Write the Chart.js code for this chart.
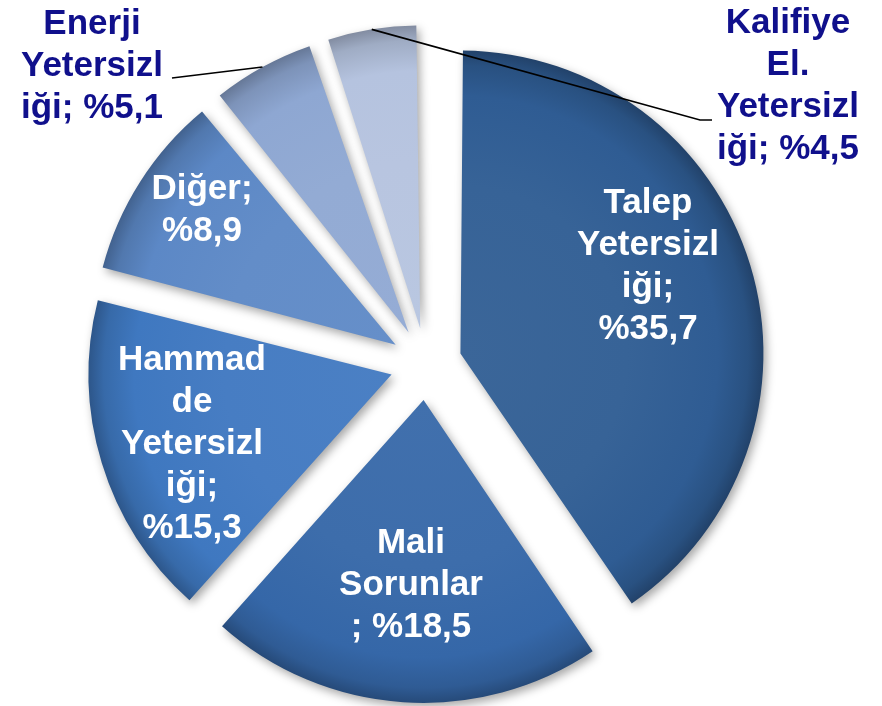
<!DOCTYPE html>
<html lang="tr">
<head>
<meta charset="UTF-8">
<title>Sorunlar</title>
<script src="https://cdn.jsdelivr.net/npm/chart.js"></script>
<style>
  html, body { margin: 0; padding: 0; background: #fff; }
  #wrap { width: 882px; height: 706px; }
</style>
</head>
<body>
<div id="wrap"><canvas id="pie"></canvas></div>
<script>
const categories = ['Talep Yetersizliği', 'Mali Sorunlar', 'Hammadde Yetersizliği', 'Diğer', 'Enerji Yetersizliği', 'Kalifiye El. Yetersizliği'];
const shares = [35.7, 18.5, 15.3, 8.9, 5.1, 4.5];
// label text broken the way it is on the slide, {v} gets the value
const labelLines = [
    ['Talep', 'Yetersizl', 'iği;', '{v}'],
    ['Mali', 'Sorunlar', '; {v}'],
    ['Hammad', 'de', 'Yetersizl', 'iği;', '{v}'],
    ['Diğer;', '{v}'],
    ['Enerji', 'Yetersizl', 'iği; {v}'],
    ['Kalifiye', 'El.', 'Yetersizl', 'iği; {v}']
];
const sliceColors = ['#2f5c93', '#3567a8', '#3f78c0', '#5c88c6', '#8ea7d2', '#b5c3df'];

// layout bits
const RADIUS = 303;
const EXPLODE = 36;          // how far each slice is pulled out
const LINE = 42;
const labelAt = [[648, 266], [411, 585], [192, 444], [202, 210], [92, 66], [788, 86]];
const labelColor = ['#fff', '#fff', '#fff', '#fff', '#10108c', '#10108c'];
const leaderFrom = [null, null, null, null, [[172, 78]], [[712, 120], [700, 120]]];

function fmt(v) {
    return '%' + v.toFixed(1).replace('.', ',');
}

function mix(hex, to, t) {
    const a = parseInt(hex.slice(1), 16), b = parseInt(to.slice(1), 16);
    const ch = (n, s) => (n >> s) & 255;
    const c = s => Math.round(ch(a, s) + (ch(b, s) - ch(a, s)) * t);
    return `rgb(${c(16)}, ${c(8)}, ${c(0)})`;
}

// radial shading, centred on the chart centre; the arc draw translates it with the slice
function sliceFill(ctx) {
    const base = sliceColors[ctx.dataIndex] || sliceColors[0];
    const area = ctx.chart.chartArea;
    if (ctx.type !== 'data' || !area) return base;
    const cx = (area.left + area.right) / 2;
    const cy = (area.top + area.bottom) / 2;
    const g = ctx.chart.ctx.createRadialGradient(cx, cy, 0, cx, cy, RADIUS);
    g.addColorStop(0, mix(base, '#ffffff', 0.06));
    g.addColorStop(0.55, mix(base, '#ffffff', 0.04));
    g.addColorStop(0.85, base);
    g.addColorStop(0.95, mix(base, '#000000', 0.12));
    g.addColorStop(1, mix(base, '#000000', 0.28));
    return g;
}

const pieDecor = {
    id: 'pieDecor',
    afterDatasetUpdate(chart, args) {
        // v4 grows the radius of an offset slice; pull it back so all slices match
        args.meta.data.forEach(arc => {
            const fix = 1 - Math.sin(Math.min(Math.PI, arc.circumference));
            arc.outerRadius = RADIUS - EXPLODE * fix;
        });
    },
    beforeDatasetsDraw(chart) {
        const ctx = chart.ctx;
        ctx.save();
        ctx.shadowColor = 'rgba(0, 0, 0, 0.35)';
        ctx.shadowBlur = 10;
        ctx.shadowOffsetX = 3;
        ctx.shadowOffsetY = 4;
    },
    afterDatasetsDraw(chart) {
        const ctx = chart.ctx;
        ctx.restore();
        const arcs = chart.getDatasetMeta(0).data;

        // leader lines
        ctx.save();
        ctx.strokeStyle = '#000';
        ctx.lineWidth = 1.6;
        arcs.forEach((arc, i) => {
            if (!leaderFrom[i]) return;
            const a = (arc.startAngle + arc.endAngle) / 2;
            const ex = arc.x + Math.cos(a) * (EXPLODE + RADIUS);
            const ey = arc.y + Math.sin(a) * (EXPLODE + RADIUS);
            ctx.beginPath();
            leaderFrom[i].forEach((p, k) => k ? ctx.lineTo(p[0], p[1]) : ctx.moveTo(p[0], p[1]));
            ctx.lineTo(ex, ey);
            ctx.stroke();
        });

        // labels
        ctx.font = 'bold 35px "Liberation Sans", Arial, sans-serif';
        ctx.textAlign = 'center';
        ctx.textBaseline = 'middle';
        labelLines.forEach((lines, i) => {
            const [x, y] = labelAt[i];
            ctx.fillStyle = labelColor[i];
            lines.forEach((s, k) => {
                const txt = s.replace('{v}', fmt(shares[i]));
                ctx.fillText(txt, x, y + (k - (lines.length - 1) / 2) * LINE);
            });
        });
        ctx.restore();
    }
};

new Chart(document.getElementById('pie'), {
    type: 'pie',
    data: {
        labels: categories,
        datasets: [{
            data: shares,
            backgroundColor: sliceFill,
            borderWidth: 0,
            offset: EXPLODE * 4   // the arc draw uses a quarter of this
        }]
    },
    options: {
        responsive: true,
        maintainAspectRatio: false,
        animation: false,
        events: [],
        radius: RADIUS,
        layout: { padding: { left: 0, right: 30, top: 22, bottom: 0 } },
        plugins: {
            legend: { display: false },
            tooltip: { enabled: false }
        }
    },
    plugins: [pieDecor]
});
</script>
</body>
</html>
